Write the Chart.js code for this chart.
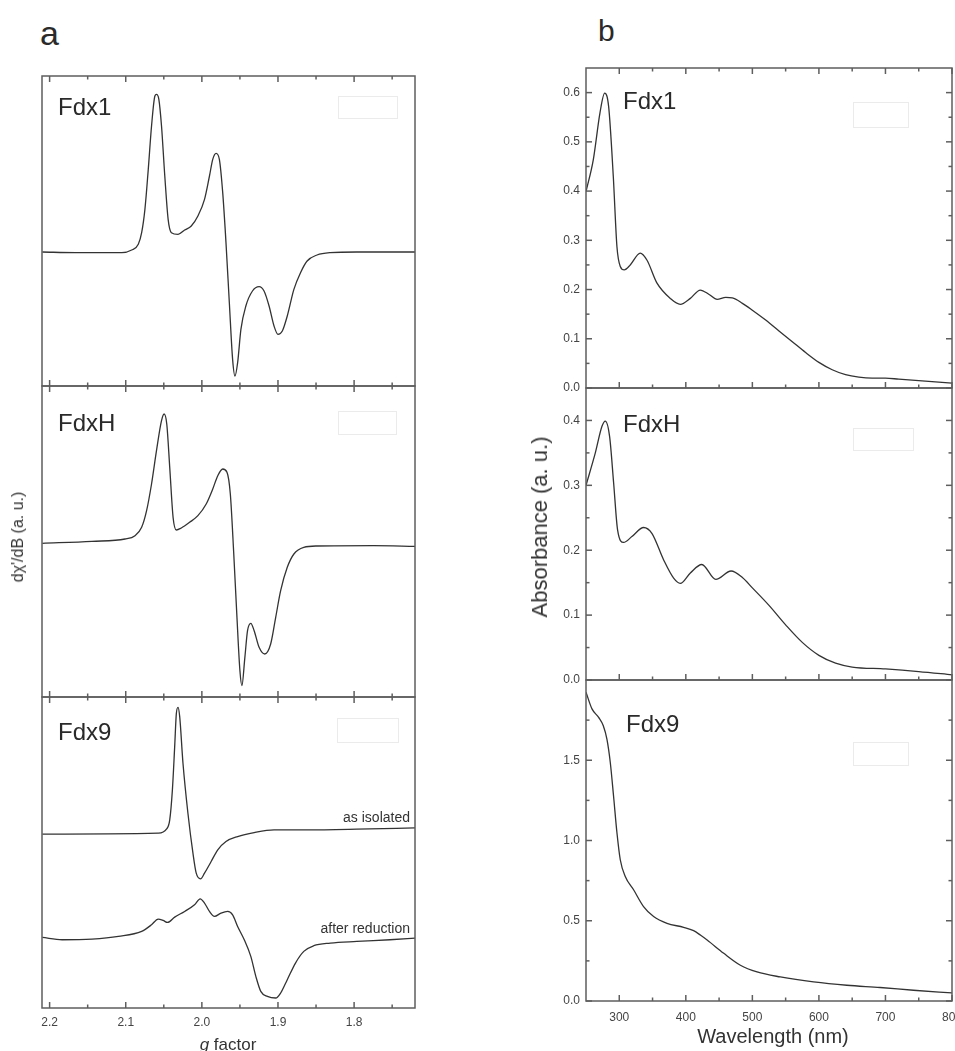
<!DOCTYPE html>
<html><head><meta charset="utf-8">
<script src="https://cdn.jsdelivr.net/npm/chart.js@4.4.1/dist/chart.umd.min.js"></script>
<style>
html,body{margin:0;padding:0;background:#fff;}
#fig{position:relative;width:955px;height:1051px;overflow:hidden;background:#fff;font-family:"Liberation Sans",Arial,sans-serif;color:#2a2a2a;}
#fig canvas{position:absolute;}
.t{position:absolute;white-space:nowrap;line-height:1;}
.rot{position:absolute;white-space:nowrap;line-height:1;transform:translate(-50%,-50%) rotate(-90deg);}
</style></head><body>
<div id="fig">
<canvas id="a1"></canvas><canvas id="a2"></canvas><canvas id="a3"></canvas>
<canvas id="b1"></canvas><canvas id="b2"></canvas><canvas id="b3"></canvas>
<div class="t" style="left:40px;top:16px;font-size:34px">a</div>
<div class="t" style="left:598px;top:16px;font-size:30px">b</div>
<div class="t" style="left:58px;top:94.6px;font-size:24px">Fdx1</div>
<div class="t" style="left:58px;top:411px;font-size:24px">FdxH</div>
<div class="t" style="left:58px;top:720px;font-size:24px">Fdx9</div>
<div class="t" style="left:623px;top:88.6px;font-size:24px">Fdx1</div>
<div class="t" style="left:623px;top:412px;font-size:24px">FdxH</div>
<div class="t" style="left:626px;top:712px;font-size:24px">Fdx9</div>
<div class="t" style="right:545px;top:810px;font-size:14px;color:#333">as isolated</div>
<div class="t" style="right:545px;top:921px;font-size:14px;color:#333">after reduction</div>
<div class="t" style="left:773px;top:1025.7px;font-size:20px;transform:translateX(-50%);color:#333">Wavelength (nm)</div>
<div class="t" style="left:228px;top:1036px;font-size:17px;transform:translateX(-50%);color:#333"><i>g</i> factor</div>
<div class="rot" style="left:540px;top:527px;font-size:22px;color:#333">Absorbance (a. u.)</div>
<div class="rot" style="left:18px;top:537px;font-size:16px;color:#333">dχ'/dB (a. u.)</div>
</div>
<script>
// ---------- EPR spectra (panel a), g factor vs derivative signal (a.u.) ----------
const gFdx1 = [2.2096,2.1661,2.1052,2.0922,2.0835,2.0791,2.0748,2.0704,2.0661,2.0617,2.0596,2.0565,2.0530,2.0487,2.0443,2.0400,2.0313,2.0226,2.0139,2.0052,1.9965,1.9900,1.9857,1.9813,1.9770,1.9726,1.9683,1.9639,1.9596,1.9565,1.9530,1.9487,1.9422,1.9335,1.9248,1.9183,1.9117,1.9052,1.9000,1.8943,1.8878,1.8791,1.8704,1.8617,1.8487,1.8313,1.7965,1.7183];
const eprFdx1 = [0.0,-0.02,-0.02,0.06,0.23,0.58,1.28,2.48,3.78,4.68,4.73,4.58,3.78,2.28,0.98,0.58,0.53,0.66,0.78,1.08,1.58,2.28,2.78,2.96,2.78,1.78,0.28,-1.52,-3.22,-3.72,-3.32,-2.32,-1.62,-1.17,-1.04,-1.17,-1.62,-2.22,-2.47,-2.37,-1.92,-1.12,-0.62,-0.27,-0.09,-0.02,0.0,0.0];

const gFdxH = [2.2096,2.1443,2.1009,2.0878,2.0791,2.0726,2.0661,2.0596,2.0530,2.0496,2.0461,2.0422,2.0378,2.0335,2.0270,2.0161,2.0052,1.9943,1.9857,1.9791,1.9726,1.9670,1.9626,1.9583,1.9539,1.9500,1.9474,1.9435,1.9400,1.9357,1.9313,1.9248,1.9174,1.9096,1.9030,1.8965,1.8878,1.8791,1.8661,1.8487,1.7748,1.7183];
const eprFdxH = [0.02,0.08,0.15,0.25,0.5,1.0,1.8,2.8,3.7,3.9,3.6,2.3,0.8,0.42,0.48,0.65,0.85,1.2,1.65,2.05,2.25,2.15,1.5,-0.2,-2.2,-3.8,-4.25,-3.4,-2.6,-2.38,-2.6,-3.1,-3.3,-3.0,-2.2,-1.4,-0.7,-0.3,-0.1,-0.06,-0.05,-0.07];

const gFdx9Iso = [2.2096,2.1226,2.0574,2.0465,2.0422,2.0387,2.0357,2.0335,2.0313,2.0291,2.0248,2.0183,2.0117,2.0074,2.0017,1.9965,1.9878,1.9791,1.9683,1.9530,1.9313,1.9052,1.8617,1.7965,1.7183];
const eprFdx9Iso = [5.22,5.23,5.25,5.37,5.65,6.55,7.85,8.85,9.03,8.75,7.35,5.85,4.65,4.05,3.88,4.05,4.4,4.75,5.0,5.15,5.27,5.35,5.35,5.37,5.41];

const gFdx9Red = [2.2096,2.1835,2.1443,2.1096,2.0791,2.0661,2.0574,2.0509,2.0452,2.0357,2.0226,2.0096,2.0022,1.9965,1.9900,1.9835,1.9748,1.9661,1.9596,1.9530,1.9443,1.9357,1.9291,1.9226,1.9139,1.9030,1.8965,1.8878,1.8770,1.8661,1.8530,1.8313,1.7965,1.7530,1.7183];
const eprFdx9Red = [2.12,2.05,2.07,2.15,2.3,2.5,2.67,2.63,2.57,2.73,2.9,3.1,3.28,3.15,2.9,2.75,2.85,2.9,2.8,2.45,2.05,1.55,0.95,0.5,0.35,0.3,0.45,0.85,1.35,1.7,1.87,1.95,2.0,2.05,2.1];

// ---------- UV-vis spectra (panel b), wavelength (nm) vs absorbance ----------
const wlFdx1 = [250,261,271,278,284,291,296.5,301.5,307.5,316.5,331.5,341.5,356.7,376.7,391.7,406.8,421.8,435,447,460,470,485,500,520,540,560,580,600,620,640,660,680,700,720,750,800];
const absFdx1 = [0.399,0.464,0.559,0.599,0.572,0.43,0.287,0.247,0.24,0.25,0.274,0.26,0.213,0.182,0.17,0.182,0.199,0.19,0.18,0.184,0.183,0.172,0.158,0.138,0.116,0.094,0.072,0.052,0.037,0.027,0.022,0.02,0.02,0.018,0.015,0.01];

const wlFdxH = [250,264,274,279,285.5,291.5,297.5,306.5,319,336.6,349,366.7,381.7,391.7,406.8,424,445,468,485,500,525,550,575,600,625,650,700,750,800];
const absFdxH = [0.3,0.35,0.391,0.399,0.375,0.304,0.231,0.212,0.221,0.235,0.226,0.185,0.157,0.149,0.165,0.178,0.155,0.168,0.158,0.142,0.115,0.085,0.058,0.038,0.026,0.02,0.017,0.013,0.008];

const wlFdx9 = [250,259,269,276,281.5,286.5,291.4,296.5,301.5,309,321.5,336.5,351.6,371.7,396.7,411.7,421.8,432,457,482,507,542,592,642,692,742,800];
const absFdx9 = [1.924,1.82,1.767,1.715,1.63,1.486,1.277,1.048,0.88,0.776,0.693,0.588,0.526,0.484,0.459,0.438,0.411,0.38,0.297,0.223,0.181,0.15,0.119,0.098,0.084,0.067,0.05];

// ---------- tick values ----------
const gTicks = [2.2,2.1,2.0,1.9,1.8];
const gMinor = [2.15,2.05,1.95,1.85,1.75];
const wlTicks = [300,400,500,600,700,800];
const wlMinor = [350,450,550,650,750];
const absTicks1 = [0,0.1,0.2,0.3,0.4,0.5,0.6];
const absMinor1 = [0.05,0.15,0.25,0.35,0.45,0.55];
const absTicks2 = [0,0.1,0.2,0.3,0.4];
const absMinor2 = [0.05,0.15,0.25,0.35];
const absTicks3 = [0,0.5,1.0,1.5];
const absMinor3 = [0.25,0.75,1.25,1.75];

Chart.defaults.font.family = '"Liberation Sans", Arial, sans-serif';
const LINE = '#333333', FRAME = '#5e5e5e', TICKTXT = '#444444';

function frame(deco){
  return {
    id:'frame',
    beforeDatasetsDraw(chart){
      if(!deco.box) return;
      const {ctx, chartArea:a} = chart;
      ctx.save(); ctx.strokeStyle='#ebebeb'; ctx.lineWidth=1;
      ctx.strokeRect(a.left+deco.box[0]+.5, a.top+deco.box[1]+.5, deco.box[2], deco.box[3]);
      ctx.restore();
    },
    afterDatasetsDraw(chart){
      const {ctx, chartArea:a} = chart; const x=chart.scales.x, y=chart.scales.y;
      ctx.save(); ctx.strokeStyle=FRAME; ctx.lineWidth=1.5;
      const seg=(x1,y1,x2,y2)=>{ctx.beginPath();ctx.moveTo(x1,y1);ctx.lineTo(x2,y2);ctx.stroke();};
      for(const [vals,len] of [[deco.xMajor||[],6],[deco.xMinor||[],3.5]]){
        for(const v of vals){const p=x.getPixelForValue(v);
          seg(p,a.bottom,p,a.bottom-len);
          if(deco.top) seg(p,a.top,p,a.top+len);}
      }
      for(const [vals,len] of [[deco.yMajor||[],6],[deco.yMinor||[],3.5]]){
        for(const v of vals){const p=y.getPixelForValue(v);
          seg(a.left,p,a.left+len,p); seg(a.right,p,a.right-len,p);}
      }
      ctx.strokeRect(a.left, a.top, a.right-a.left, a.bottom-a.top);
      ctx.restore();
    }
  };
}

function series(xs, ys){ return xs.map((v,i)=>({x:v, y:ys[i]})); }
function ds(xs, ys){
  return {data:series(xs,ys), borderColor:LINE, borderWidth:1.3, pointRadius:0, fill:false, cubicInterpolationMode:'monotone'};
}

function makeChart(id, area, pad, xs, ys, datasets, deco){
  const cv = document.getElementById(id);
  const W = area.w + pad.l + pad.r, H = area.h + pad.t + pad.b;
  cv.width = W; cv.height = H;
  cv.style.left = (area.l - pad.l) + 'px'; cv.style.top = (area.t - pad.t) + 'px';
  cv.style.width = W + 'px'; cv.style.height = H + 'px';
  const tickFont = {family:'"Liberation Sans", Arial, sans-serif', size:12};
  return new Chart(cv, {
    type:'line',
    data:{datasets},
    options:{
      responsive:false, animation:false, devicePixelRatio:1, events:[],
      layout:{padding:{left:0, top:pad.t, right:pad.r, bottom:0}},
      plugins:{legend:{display:false}, tooltip:{enabled:false}},
      scales:{
        x:{type:'linear', min:xs.min, max:xs.max, reverse:!!xs.reverse,
           grid:{display:false, drawTicks:false}, border:{display:false},
           ticks:{display:!!xs.labels, padding:xs.padding||8, font:tickFont, color:TICKTXT, autoSkip:false, maxRotation:0,
                  callback:(v)=>xs.fmt(v)},
           afterBuildTicks:(s)=>{ s.ticks = xs.ticks.map(v=>({value:v})); },
           afterFit:(s)=>{ s.height = pad.b; s.paddingLeft = 0; s.paddingRight = 0; }},
        y:{type:'linear', min:ys.min, max:ys.max,
           grid:{display:false, drawTicks:false}, border:{display:false},
           ticks:{display:!!ys.labels, padding:6, font:tickFont, color:TICKTXT, autoSkip:false,
                  callback:(v)=>v.toFixed(1)},
           afterBuildTicks:(s)=>{ s.ticks = (ys.ticks||[]).map(v=>({value:v})); },
           afterFit:(s)=>{ s.width = pad.l; s.paddingTop = 0; s.paddingBottom = 0; }}
      }
    },
    plugins:[frame(deco)]
  });
}

const fmt1 = v => v.toFixed(1);
const fmt0 = v => String(Math.round(v));

// panel a
const gAxis = {min:1.72, max:2.21, reverse:true, ticks:gTicks, fmt:fmt1};
const padA = {l:42, t:10, r:15, b:10};
makeChart('a1', {l:42,t:76,w:373,h:310}, padA, gAxis, {min:-4.02, max:5.28},
  [ds(gFdx1, eprFdx1)], {xMajor:gTicks, xMinor:gMinor, top:true, box:[296,20,59,22]});
makeChart('a2', {l:42,t:386,w:373,h:311}, padA, gAxis, {min:-4.59, max:4.74},
  [ds(gFdxH, eprFdxH)], {xMajor:gTicks, xMinor:gMinor, top:true, box:[296,25,58,23]});
makeChart('a3', {l:42,t:697,w:373,h:311}, {l:42,t:10,r:15,b:43}, Object.assign({}, gAxis, {labels:true, padding:7}), {min:0, max:9.34},
  [ds(gFdx9Iso, eprFdx9Iso), ds(gFdx9Red, eprFdx9Red)], {xMajor:gTicks, xMinor:gMinor, top:true, box:[295,21,61,24]});

// panel b
const wlAxis = {min:250, max:800, ticks:wlTicks, fmt:fmt0};
const padB = {l:56, t:10, r:3, b:10};
makeChart('b1', {l:586,t:68,w:366,h:320}, padB, wlAxis, {min:0, max:0.65, labels:true, ticks:absTicks1},
  [ds(wlFdx1, absFdx1)], {xMajor:wlTicks, xMinor:wlMinor, top:true, yMajor:absTicks1, yMinor:absMinor1, box:[267,34,55,25]});
makeChart('b2', {l:586,t:388,w:366,h:292}, padB, wlAxis, {min:0, max:0.45, labels:true, ticks:absTicks2},
  [ds(wlFdxH, absFdxH)], {xMajor:wlTicks, xMinor:wlMinor, top:false, yMajor:absTicks2, yMinor:absMinor2, box:[267,40,60,22]});
makeChart('b3', {l:586,t:680,w:366,h:321}, {l:56,t:10,r:3,b:50}, Object.assign({}, wlAxis, {labels:true, padding:9}), {min:0, max:2.0, labels:true, ticks:absTicks3},
  [ds(wlFdx9, absFdx9)], {xMajor:wlTicks, xMinor:wlMinor, top:false, yMajor:absTicks3, yMinor:absMinor3, box:[267,62,55,23]});
</script>
</body></html>
